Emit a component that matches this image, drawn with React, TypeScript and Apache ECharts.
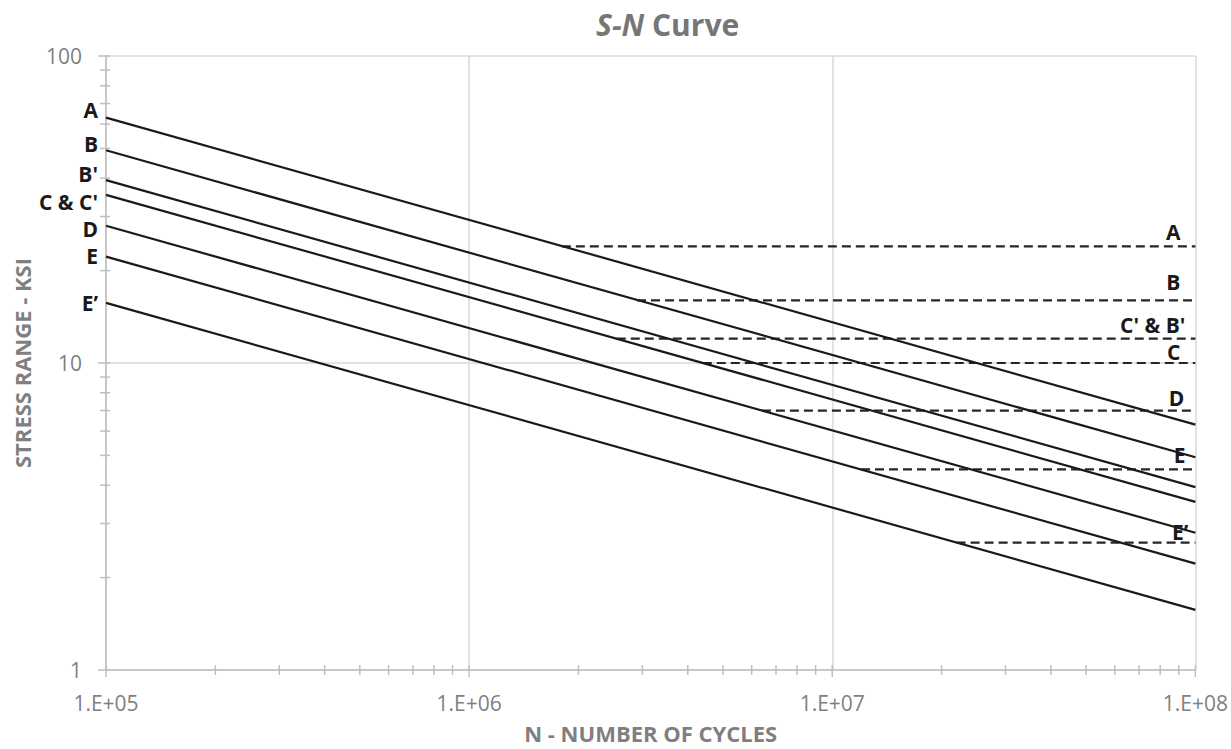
import React, { useEffect, useRef } from 'react';
import * as echarts from 'echarts';

// ---- data ----
const N_MIN = 1e5;
const N_MAX = 1e8;
const Y_MIN = 1;
const Y_MAX = 100;

// S-N design curves (stress range in ksi at N = 1e5 and N = 1e8)
const curveLabels = ['A', 'B', "B'", "C & C'", 'D', 'E', 'E\u2019'];
const curveStressAtNMin = [63.0, 49.3, 39.4, 35.3, 28.0, 22.2, 15.7];
const curveStressAtNMax = [6.3, 4.93, 3.94, 3.53, 2.8, 2.22, 1.57];

// constant amplitude fatigue thresholds (dashed)
const cafLabels = ['A', 'B', "C' & B'", 'C', 'D', 'E', 'E\u2019'];
const cafStress = [24, 16, 12, 10, 7, 4.5, 2.6];
const cafStartN = [1.8e6, 2.9e6, 2.55e6, 4.4e6, 6.4e6, 1.2e7, 2.2e7];

// axis tick values
const xMajorTicks = [1e5, 1e6, 1e7, 1e8];
const xMinorTicks = [
  2e5, 3e5, 4e5, 5e5, 6e5, 7e5, 8e5, 9e5,
  2e6, 3e6, 4e6, 5e6, 6e6, 7e6, 8e6, 9e6,
  2e7, 3e7, 4e7, 5e7, 6e7, 7e7, 8e7, 9e7,
];
const yMajorTicks = [1, 10, 100];
const yMinorTicks = [2, 3, 4, 5, 6, 7, 8, 9, 20, 30, 40, 50, 60, 70, 80, 90];

// ---- styles ----
const FONT = '"Open Sans", sans-serif';
const GREY_TEXT = '#7f7f7f';
const TICK_COLOR = '#bfbfbf';
const LINE_COLOR = '#1a1a1a';
const leftLabelDy = [-8, -6, -6, 7, 3, -1, 0];
const rightLabelOffset = [
  [-15, -14], [-15, -18], [-10, -14], [-15, -11], [-11, -13], [-10, -14], [-7, -11],
];

const labelText = {
  fontFamily: FONT,
  fontWeight: 'bold' as const,
  fontSize: 21,
  lineHeight: 18,
  color: LINE_COLOR,
};

export default function App() {
  const ref = useRef<HTMLDivElement>(null);

  useEffect(() => {
    document.body.style.margin = '0';
    const chart = echarts.init(ref.current!, null, { renderer: 'svg' });

    const curveSeries = curveLabels.map((name, i) => ({
      type: 'line',
      name,
      symbol: 'circle',
      symbolSize: 0,
      showSymbol: true,
      silent: true,
      z: 4,
      lineStyle: { color: LINE_COLOR, width: 2.2 },
      itemStyle: { color: LINE_COLOR },
      data: [
        {
          value: [N_MIN, curveStressAtNMin[i]],
          label: {
            show: true,
            formatter: name,
            position: 'left',
            distance: 8,
            offset: [0, leftLabelDy[i]],
            ...labelText,
          },
        },
        { value: [N_MAX, curveStressAtNMax[i]] },
      ],
    }));

    const cafSeries = cafLabels.map((name, i) => ({
      type: 'line',
      name: 'CAFT ' + name,
      symbol: 'circle',
      symbolSize: 0,
      showSymbol: true,
      silent: true,
      z: 3,
      lineStyle: { color: '#262626', width: 2.2, type: [9, 5] },
      itemStyle: { color: '#262626' },
      data: [
        { value: [cafStartN[i], cafStress[i]] },
        {
          value: [N_MAX, cafStress[i]],
          label: {
            show: true,
            formatter: name,
            position: 'left',
            distance: 0,
            offset: rightLabelOffset[i],
            ...labelText,
          },
        },
      ],
    }));

    const xTickSeries = {
      type: 'custom',
      coordinateSystem: 'cartesian2d',
      silent: true,
      clip: false,
      z: 5,
      data: [
        ...xMajorTicks.map((v) => [v, Y_MIN, 1]),
        ...xMinorTicks.map((v) => [v, Y_MIN, 0]),
      ],
      renderItem: (_params: any, api: any) => {
        const p = api.coord([api.value(0), api.value(1)]);
        const major = api.value(2) === 1;
        return {
          type: 'line',
          shape: { x1: p[0], y1: p[1] - 5, x2: p[0], y2: p[1] + (major ? 7 : 5) },
          style: { stroke: TICK_COLOR, lineWidth: 1.5 },
        };
      },
    };

    const yTickSeries = {
      type: 'custom',
      coordinateSystem: 'cartesian2d',
      silent: true,
      clip: false,
      z: 5,
      data: [
        ...yMajorTicks.map((v) => [N_MIN, v, 1]),
        ...yMinorTicks.map((v) => [N_MIN, v, 0]),
      ],
      renderItem: (_params: any, api: any) => {
        const p = api.coord([api.value(0), api.value(1)]);
        const major = api.value(2) === 1;
        return {
          type: 'line',
          shape: { x1: p[0] - (major ? 8 : 6), y1: p[1], x2: p[0] + 4, y2: p[1] },
          style: { stroke: TICK_COLOR, lineWidth: 1.5 },
        };
      },
    };

    chart.setOption({
      animation: false,
      backgroundColor: '#ffffff',
      title: {
        text: '{i|S-N} {n|Curve}',
        left: 591,
        top: 4,
        textStyle: {
          fontFamily: FONT,
          fontSize: 30,
          fontWeight: 'bold',
          color: '#767676',
          rich: {
            i: { fontFamily: FONT, fontSize: 30, fontWeight: 'bold', fontStyle: 'italic', color: '#767676' },
            n: { fontFamily: FONT, fontSize: 30, fontWeight: 'bold', color: '#767676' },
          },
        },
      },
      grid: { left: 106, right: 34, top: 56, bottom: 76, containLabel: false },
      xAxis: {
        type: 'log',
        logBase: 10,
        min: N_MIN,
        max: N_MAX,
        name: 'N - NUMBER OF CYCLES',
        nameLocation: 'middle',
        nameGap: 52,
        nameTextStyle: { fontFamily: FONT, fontSize: 22, fontWeight: 'bold', color: GREY_TEXT },
        axisLine: { show: true, lineStyle: { color: TICK_COLOR, width: 1.5 } },
        axisTick: { show: false },
        axisLabel: {
          margin: 22,
          fontFamily: FONT,
          fontSize: 21,
          color: GREY_TEXT,
          formatter: (v: number) => {
            const e = Math.round(Math.log10(v));
            return '1.E+' + String(e).padStart(2, '0');
          },
        },
        splitLine: { show: true, lineStyle: { color: '#d9d9d9', width: 1.5 } },
      },
      yAxis: {
        type: 'log',
        logBase: 10,
        min: Y_MIN,
        max: Y_MAX,
        name: 'STRESS RANGE - KSI',
        nameLocation: 'middle',
        nameGap: 73,
        nameRotate: 90,
        nameTextStyle: { fontFamily: FONT, fontSize: 22, fontWeight: 'bold', color: GREY_TEXT },
        axisLine: { show: true, lineStyle: { color: TICK_COLOR, width: 1.5 } },
        axisTick: { show: false },
        axisLabel: {
          margin: 24,
          fontFamily: FONT,
          fontSize: 21,
          color: GREY_TEXT,
          formatter: (v: number) => String(Math.round(v)),
        },
        splitLine: { show: true, lineStyle: { color: '#d9d9d9', width: 1.5 } },
      },
      series: [...curveSeries, ...cafSeries, xTickSeries, yTickSeries],
    });

    return () => chart.dispose();
  }, []);

  return (
    <div
      ref={ref}
      style={{ position: 'absolute', left: 0, top: 0, width: 1231, height: 749 }}
    />
  );
}
